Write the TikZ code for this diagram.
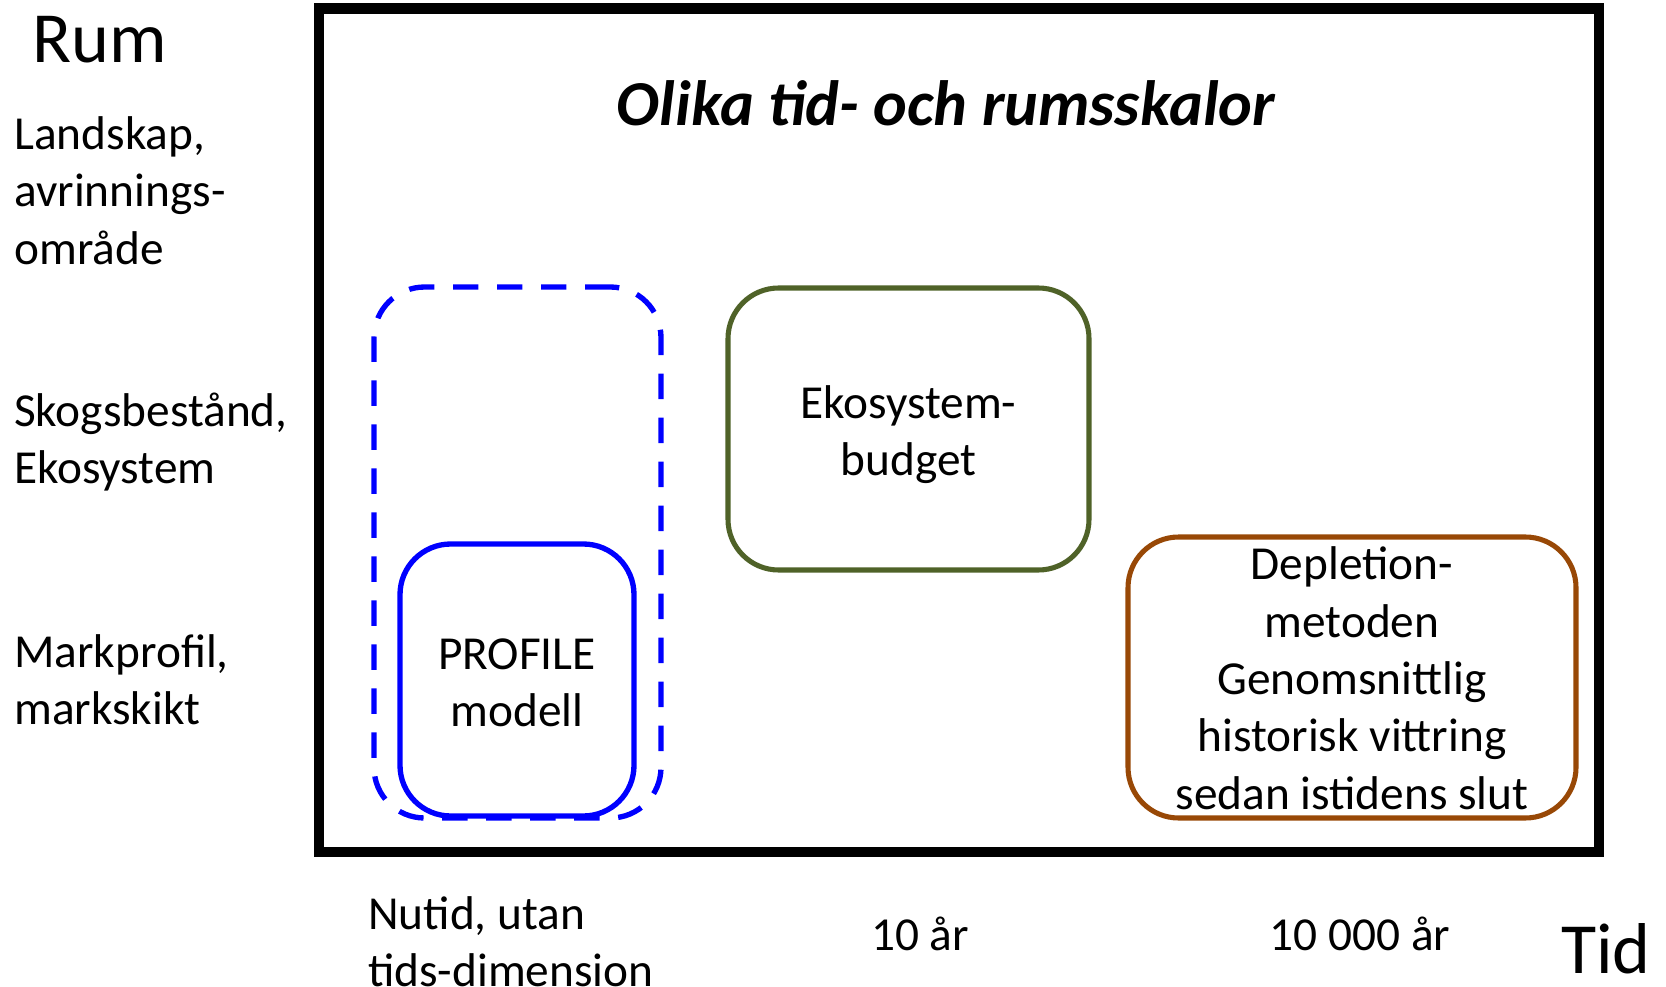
\documentclass[tikz,border=0pt]{standalone}
\usepackage{fontspec}
\setmainfont{Carlito}
\definecolor{boxblue}{RGB}{0,0,255}
\definecolor{boxgreen}{RGB}{79,98,40}
\definecolor{boxbrown}{RGB}{152,72,6}
\begin{document}
\begin{tikzpicture}[x=0.75pt,y=-0.75pt,
  lbl/.style={font=\fontsize{35.5}{43}\selectfont, align=left, inner sep=0pt},
  boxtext/.style={font=\fontsize{35.5}{43}\selectfont, align=center, inner sep=0pt},
  big/.style={font=\fontsize{54}{64}\selectfont, inner sep=0pt},
  titlestyle/.style={font=\fontsize{48}{58}\selectfont\bfseries\itshape, inner sep=0pt},
  roundbox/.style={rectangle, rounded corners=38pt, inner sep=0pt},
  framebox/.style={rectangle, draw=black, line width=8pt, inner sep=0pt}
]
\useasboundingbox (0,0) rectangle (1666,987);

% outer frame
\node[framebox, minimum width=960pt, minimum height=632.6pt] (frame) at (959,430.25) {};

% title
\node[titlestyle] (title) at (946,103) {Olika tid- och rumsskalor};

% axis titles
\node[big, anchor=west] (rum) at (32,40) {Rum};
\node[big] (tid) at (1606,949) {Tid};

% space labels
\node[lbl, anchor=west] (landskap) at (14,195.5) {\strut Landskap,\\\strut avrinnings-\\\strut område};
\node[lbl, anchor=west] (skog) at (14,443.5) {\strut Skogsbestånd,\\\strut Ekosystem};
\node[lbl, anchor=west] (mark) at (14,684.5) {\strut Markprofil,\\\strut markskikt};

% time labels
\node[lbl, anchor=west] (nutid) at (368,946.5) {\strut Nutid, utan\\\strut tids-dimension};
\node[lbl] (tio) at (920,934) {10 år};
\node[lbl] (tiotusen) at (1360,934) {10 000 år};

% boxes
\node[roundbox, draw=boxblue, line width=4pt, dash pattern=on 19pt off 14pt,
  minimum width=215.25pt, minimum height=398.25pt] (stand) at (517.5,552.5) {};
\node[roundbox, draw=boxblue, line width=4pt,
  minimum width=175.5pt, minimum height=204pt] (profile) at (517,680) {};
\node[boxtext] (proftext) at (517,686.5) {\strut PROFILE\\\strut modell};
\node[roundbox, draw=boxgreen, line width=3.8pt,
  minimum width=270.75pt, minimum height=211.5pt] (eko) at (908.5,429) {};
\node[boxtext] (ekotext) at (908.5,435.5) {\strut Ekosystem-\\\strut budget};
\node[roundbox, draw=boxbrown, line width=3.8pt,
  minimum width=336pt, minimum height=210.75pt] (depl) at (1352,677.5) {};
\node[boxtext] (depltext) at (1352,683)
  {\strut Depletion-\\\strut metoden\\\strut Genomsnittlig\\\strut historisk vittring\\\strut sedan istidens slut};
\end{tikzpicture}
\end{document}
